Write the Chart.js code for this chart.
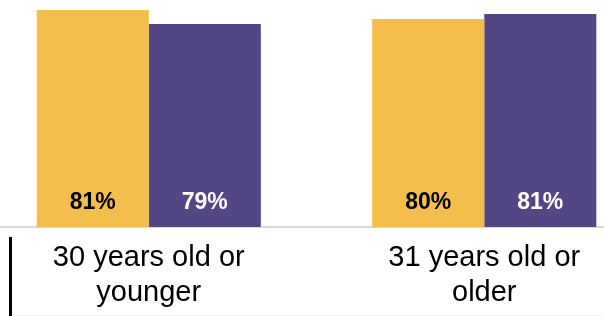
<!DOCTYPE html>
<html>
<head>
<meta charset="utf-8">
<script src="https://cdn.jsdelivr.net/npm/chart.js@4/dist/chart.umd.min.js"></script>
<style>
  html, body { margin: 0; padding: 0; background: #fff; }
  body { width: 604px; height: 316px; position: relative; overflow: hidden; }
  #wrap { position: absolute; left: -19px; top: 0; width: 671px; height: 316px; }
  #leftRule { position: absolute; left: 9px; top: 237px; width: 3px; height: 79px; background: #000; }
  #bottomRule { position: absolute; left: 12px; right: 0; top: 315px; height: 1px; background: #f2f2f2; }
</style>
</head>
<body>
<div id="wrap"><canvas id="myChart"></canvas></div>
<div id="leftRule"></div>
<div id="bottomRule"></div>
<script>
const categories = [['30 years old or', 'younger'], ['31 years old or', 'older']];
const seriesA = [81.4, 79.6]; // yellow bars
const seriesB = [78.6, 80.6]; // purple bars
const labelColors = ['#000000', '#ffffff'];
const yMin = 38;
const yMax = 83.4;

// labels at the foot of each bar
const barLabels = {
    id: 'barLabels',
    afterDatasetsDraw: function (chart) {
        const c = chart.ctx;
        const bottom = chart.chartArea.bottom;
        c.save();
        c.font = 'bold 23px "Liberation Sans", Arial, sans-serif';
        c.textAlign = 'center';
        c.textBaseline = 'middle';
        chart.data.datasets.forEach(function (ds, i) {
            chart.getDatasetMeta(i).data.forEach(function (bar, j) {
                c.fillStyle = labelColors[i];
                c.fillText(Math.round(ds.data[j]) + '%', bar.x, bottom - 24);
            });
        });
        c.restore();
    }
};

document.addEventListener('DOMContentLoaded', function () {
    const ctx = document.getElementById('myChart').getContext('2d');
    const data = {
        labels: categories,
        datasets: [{
            data: seriesA,
            backgroundColor: '#F3BE4B',
            borderWidth: 0,
            categoryPercentage: 0.668,
            barPercentage: 1.0
        }, {
            data: seriesB,
            backgroundColor: '#534685',
            borderWidth: 0,
            categoryPercentage: 0.668,
            barPercentage: 1.0
        }]
    };
    const options = {
        responsive: true,
        maintainAspectRatio: false,
        animation: false,
        layout: { padding: 0 },
        plugins: {
            legend: { display: false },
            tooltip: { enabled: false }
        },
        scales: {
            x: {
                grid: { display: false },
                border: { display: true, color: '#D9D9D9', width: 2 },
                ticks: {
                    color: '#000000',
                    padding: 6,
                    maxRotation: 0,
                    font: { family: '"Liberation Sans", Arial, sans-serif', size: 29, lineHeight: 1.2 }
                },
                afterFit: function (scale) { scale.height = 89; }
            },
            y: {
                display: false,
                min: yMin,
                max: yMax
            }
        }
    };
    const myChart = new Chart(ctx, {
        type: 'bar',
        data: data,
        options: options,
        plugins: [barLabels]
    });
});
</script>
</body>
</html>
